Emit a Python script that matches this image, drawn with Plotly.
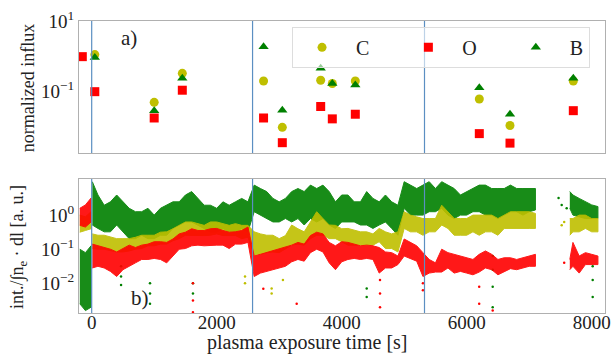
import plotly.graph_objects as go

# ---------------- panel a) : normalized influx (linear values) ----------------
T_C = [50, 1000, 1450, 2750, 3050, 3664, 3850, 4218, 6202, 6693, 7706]
V_C = [1.12, 0.050, 0.33, 0.20, 0.0098, 0.21, 0.17, 0.20, 0.062, 0.011, 0.20]
T_O = [-150, 50, 1000, 1450, 2750, 3050, 3664, 3850, 4218, 6202, 6693, 7706]
V_O = [0.98, 0.10, 0.018, 0.11, 0.018, 0.0036, 0.038, 0.017, 0.023, 0.0065, 0.0035, 0.029]
T_B = [50, 1000, 1450, 2750, 3050, 3664, 3850, 4218, 6202, 6693, 7706]
V_B = [0.93, 0.029, 0.24, 1.86, 0.030, 0.46, 0.17, 0.155, 0.13, 0.023, 0.24]

# ---------------- panel b) : line-integrated intensity, band edges (log10 units) ----------------
T_BAND = ([-190, -100, -10, None, 10] + list(range(100, 7200, 100)) +
          [None, 7650, 7700, 7800, 7900, 8000, 8100])

B_HI = ([-1.0, -1.1, -0.9, None] +
        [0.98, 0.59, 0.29, 0.39, 0.59, 0.39, 0.20, 0.10, 0.10, 0.20,
         0.0, 0.2, 0.29, 0.39, 0.39, 0.59, 0.69, 0.49, 0.29, 0.29,
         0.2, 0.39, 0.29, 0.39, 0.49, 0.39, 0.88, 0.78, 0.69, 0.49,
         0.39, 0.49, 0.69, 0.78, 0.69, 0.88, 0.78, 0.88, 0.69, 0.39,
         0.59, 0.59, 0.39, 0.39, 0.69, 0.49, 0.39, 0.59, 0.39, 0.29,
         0.98, 0.88, 0.78, 0.88, 0.98, 0.78, 0.98, 0.88, 0.78, 0.59,
         0.69, 0.78, 0.88, 0.88, 0.78, 0.78, 0.78, 0.88, 0.78, 0.78,
         0.78, 0.78] +
        [None, 0.69, 0.59, 0.49, 0.40, 0.30, 0.25])
B_LO = ([-2.6, -2.8, -2.7, None] +
        [-0.29, -0.39, -0.49, -0.49, -0.29, -0.49, -0.69, -0.69, -0.59, -0.69,
         -0.69, -0.59, -0.59, -0.39, -0.29, -0.20, -0.20, -0.29, -0.39, -0.49,
         -0.49, -0.39, -0.49, -0.49, -0.39, -0.49, 0.10, 0.0, -0.10, -0.20,
         -0.20, -0.10, -0.20, -0.10, -0.29, -0.10, -0.20, -0.10, -0.29, -0.39,
         -0.20, -0.20, -0.20, -0.29, -0.29, -0.39, -0.29, -0.20, -0.39, -0.59,
         0.20, 0.0, 0.0, 0.0, 0.10, 0.10, 0.20, 0.0, -0.10, 0.0,
         0.0, 0.10, 0.10, 0.0, 0.0, -0.10, 0.0, 0.10, 0.10, 0.0,
         0.10, 0.15] +
        [None, 0.20, 0.0, -0.05, -0.10, -0.10, -0.10])

C_HI = ([0.0, -0.05, 0.1, None] +
        [-0.55, -0.59, -0.59, -0.65, -0.69, -0.69, -0.69, -0.65, -0.59, -0.59,
         -0.59, -0.50, -0.49, -0.40, -0.29, -0.20, -0.20, -0.25, -0.30, -0.20,
         -0.20, -0.25, -0.30, -0.25, -0.30, -0.30, -0.49, -0.55, -0.59, -0.59,
         -0.69, -0.60, -0.29, -0.40, -0.49, -0.20, 0.10, -0.10, -0.29, -0.30,
         -0.40, -0.39, -0.45, -0.49, -0.49, -0.55, -0.39, -0.49, -0.55, -0.49,
         0.10, 0.0, -0.05, -0.10, -0.10, -0.10, 0.29, 0.10, -0.10, -0.10,
         -0.10, 0.0, 0.0, 0.0, 0.0, -0.10, 0.0, 0.10, 0.10, 0.10,
         0.10, 0.05] +
        [None, -0.10, -0.10, 0.0, 0.0, -0.10, -0.10])
C_LO = ([-0.5, -0.45, -0.4, None] +
        [-0.98, -1.0, -1.0, -1.05, -1.08, -1.08, -1.05, -1.0, -0.98, -0.90,
         -0.90, -0.85, -0.85, -0.75, -0.69, -0.59, -0.59, -0.60, -0.60, -0.59,
         -0.55, -0.60, -0.60, -0.60, -0.69, -0.65, -1.18, -1.15, -1.10, -1.08,
         -1.10, -1.0, -0.88, -0.85, -0.88, -0.69, -0.59, -0.59, -0.69, -0.69,
         -0.78, -0.88, -0.88, -0.88, -0.88, -0.88, -0.78, -0.98, -0.98, -1.08,
         -0.39, -0.49, -0.49, -0.59, -0.49, -0.49, -0.29, -0.39, -0.59, -0.59,
         -0.59, -0.49, -0.59, -0.49, -0.49, -0.59, -0.39, -0.39, -0.39, -0.39,
         -0.39, -0.39] +
        [None, -0.59, -0.49, -0.49, -0.39, -0.49, -0.49])

O_HI = ([0.2, 0.3, 0.5, None] +
        [-0.85, -0.90, -0.95, -1.0, -1.08, -0.98, -0.88, -0.95, -0.88, -0.85,
         -0.78, -0.78, -0.80, -0.70, -0.55, -0.50, -0.40, -0.45, -0.45, -0.40,
         -0.39, -0.45, -0.50, -0.49, -0.45, -0.35, -1.20, -1.15, -1.10, -1.05,
         -1.0, -0.95, -0.88, -0.80, -0.85, -0.60, -0.50, -0.55, -0.80, -0.90,
         -0.78, -0.80, -0.85, -0.90, -0.88, -0.90, -0.95, -1.08, -1.10, -1.20,
         -0.70, -0.80, -0.90, -1.10, -1.30, -1.40, -1.0, -1.10, -1.15, -1.20,
         -1.25, -1.30, -1.15, -1.05, -1.15, -1.30, -1.25, -1.25, -1.30, -1.25,
         -1.20, -1.15] +
        [None, -1.30, -0.80, -1.20, -1.10, -1.15, -1.20])
O_LO = ([-0.3, -0.35, -0.2, None] +
        [-1.55, -1.50, -1.55, -1.65, -1.80, -1.60, -1.50, -1.40, -1.30, -1.30,
         -1.27, -1.30, -1.40, -1.20, -1.0, -0.98, -0.90, -0.88, -0.90, -0.90,
         -0.88, -0.88, -0.98, -0.85, -0.85, -0.80, -1.80, -1.70, -1.67, -1.60,
         -1.55, -1.50, -1.37, -1.30, -1.35, -1.10, -1.0, -1.08, -1.40, -1.60,
         -1.37, -1.30, -1.27, -1.30, -1.27, -1.30, -1.70, -1.55, -1.55, -1.45,
         -1.20, -1.27, -1.35, -1.80, -1.70, -1.67, -1.67, -1.55, -1.70, -1.65,
         -1.70, -1.75, -1.67, -1.55, -1.60, -1.75, -1.65, -1.57, -1.60, -1.55,
         -1.50, -1.50] +
        [None, -1.60, -1.50, -1.70, -1.45, -1.45, -1.45])

# isolated points outside the bands (time, log10 value)
B_OUT_T = [470, 470, 470, 933, 933, 933, 1620, 1620, 4400, 4400, 6416, 6416, 6416, 6416,
           8016, 8016, 8016, 7470, 7520, 7600]
B_OUT_V = [-1.5, -1.8, -2.05, -2.0, -2.3, -2.6, -2.0, -2.3, -2.15, -2.4, -1.2, -1.6, -2.1, -2.7,
           -1.5, -1.9, -2.4, 0.5, 0.3, 0.2]
C_OUT_T = [2453, 2453, 2879, 2879, 3060, 7520, 7560]
C_OUT_V = [-1.8, -2.0, -2.15, -2.3, -1.9, -0.3, -0.2]
O_OUT_T = [1620, 1620, 1620, 4613, 4613, 4613, 5300, 5300, 6200, 6200, 6416, 2746, 3280, 7560]
O_OUT_V = [-2.0, -2.5, -2.85, -1.9, -2.3, -2.7, -2.0, -2.2, -2.1, -2.6, -2.8, -2.16, -2.6, -1.4]

VLINES = [0, 2574, 5325]

GREEN = "#008000"
YELLOW = "#bfbf00"
RED = "#ff0000"
FONT = "Liberation Serif"
TXT = "#222222"
NB = "\u00a0"


def band_xy(t, lo, hi):
    xs, ys = [], []
    seg_t, seg_lo, seg_hi = [], [], []
    for a, l, h in list(zip(t, lo, hi)) + [(None, None, None)]:
        if a is None:
            if seg_t:
                xs += seg_t + seg_t[::-1] + [None]
                ys += [10 ** v for v in seg_hi] + [10 ** v for v in seg_lo[::-1]] + [None]
            seg_t, seg_lo, seg_hi = [], [], []
        else:
            seg_t.append(a); seg_lo.append(l); seg_hi.append(h)
    return xs, ys


fig = go.Figure()

# bottom panel bands
for lo, hi, col, ot, ov in [(B_LO, B_HI, GREEN, B_OUT_T, B_OUT_V),
                            (C_LO, C_HI, YELLOW, C_OUT_T, C_OUT_V),
                            (O_LO, O_HI, RED, O_OUT_T, O_OUT_V)]:
    xs, ys = band_xy(T_BAND, lo, hi)
    fig.add_trace(go.Scatter(x=xs, y=ys, mode="lines", fill="toself", fillcolor=col,
                             line=dict(color=col, width=1), opacity=0.9,
                             xaxis="x2", yaxis="y2", showlegend=False, hoverinfo="skip"))
    fig.add_trace(go.Scatter(x=ot, y=[10 ** v for v in ov], mode="markers",
                             marker=dict(color=col, size=2.5), xaxis="x2", yaxis="y2",
                             showlegend=False, hoverinfo="skip"))

# top panel markers
fig.add_trace(go.Scatter(x=T_C, y=V_C, mode="markers", name=NB + "C" + NB * 5,
                         marker=dict(symbol="circle", color=YELLOW, size=9)))
fig.add_trace(go.Scatter(x=T_O, y=V_O, mode="markers", name=NB + "O" + NB * 5,
                         marker=dict(symbol="square", color=RED, size=9)))
fig.add_trace(go.Scatter(x=T_B, y=V_B, mode="markers", name=NB + "B",
                         marker=dict(symbol="triangle-up", color=GREEN, size=9)))

axcol = "#b0b0b0"
tickfont = dict(family=FONT, size=19, color=TXT)
common_x = dict(range=[-203, 8213], autorange=False, showline=True, mirror=True,
                linecolor=axcol, ticks="", showgrid=False, zeroline=False,
                tickvals=[0, 2000, 4000, 6000, 8000], tickfont=tickfont)

fig.update_layout(
    width=613, height=355, margin=dict(l=79, r=8, t=21, b=42, autoexpand=False),
    paper_bgcolor="white", plot_bgcolor="white",
    font=dict(family=FONT, size=18, color=TXT),
    xaxis=dict(common_x, anchor="y", domain=[0, 1], showticklabels=False),
    yaxis=dict(type="log", range=[-2.735, 1], domain=[0.548, 1], anchor="x",
               showline=True, mirror=True, linecolor=axcol, showgrid=False,
               ticks="", tickvals=[0.1, 10], ticktext=["10<sup>−1</sup>", "10<sup>1</sup>"],
               tickfont=tickfont),
    xaxis2=dict(common_x, anchor="y2", domain=[0, 1], ticklabelstandoff=-8),
    yaxis2=dict(type="log", range=[-2.87, 1.06], domain=[0, 0.459], anchor="x2",
                showline=True, mirror=True, linecolor=axcol, showgrid=False,
                ticks="", tickvals=[0.01, 0.1, 1],
                ticktext=["10<sup>−2</sup>", "10<sup>−1</sup>", "10<sup>0</sup>"],
                tickfont=tickfont),
    legend=dict(orientation="h", x=0.405, y=0.98, xanchor="left", yanchor="top",
                xref="paper", yref="paper",
                bgcolor="rgba(255,255,255,0.6)", bordercolor="#dddddd", borderwidth=1,
                font=dict(family=FONT, size=20, color=TXT), itemwidth=48,
                itemsizing="trace"),
)

shapes = []
for v in VLINES:
    for yr in ["y domain", "y2 domain"]:
        shapes.append(dict(type="line", xref="x" if yr == "y domain" else "x2", yref=yr,
                           x0=v, x1=v, y0=0, y1=1, layer="above",
                           line=dict(color="#5b8fc2", width=1.2)))
fig.update_layout(shapes=shapes)

ann = dict(xref="paper", yref="paper", showarrow=False, xanchor="center", yanchor="middle")
fig.add_annotation(ann, text="normalized influx", x=-0.097, y=0.77, textangle=-90,
                   font=dict(family=FONT, size=18, color=TXT))
fig.add_annotation(ann, text="int./∫n<sub>e</sub> · dl [a. u.]", x=-0.116, y=0.226,
                   textangle=-90, font=dict(family=FONT, size=18, color=TXT))
fig.add_annotation(ann, text="plasma exposure time [s]", x=0.435, y=-0.1,
                   font=dict(family=FONT, size=20, color=TXT))
fig.add_annotation(ann, text="a)", x=0.096, y=0.942,
                   font=dict(family=FONT, size=21, color=TXT))
fig.add_annotation(ann, text="b)", x=0.116, y=0.051,
                   font=dict(family=FONT, size=21, color=TXT))

fig.write_html("out.html")
